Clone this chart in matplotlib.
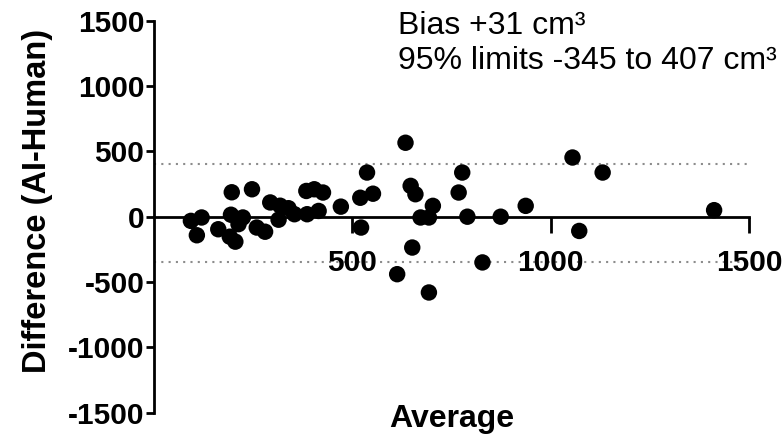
import matplotlib.pyplot as plt

plt.rcParams['font.family'] = ['Liberation Sans', 'DejaVu Sans']
plt.rcParams['axes.unicode_minus'] = False

# Bland-Altman data
average = [93, 120, 108, 196, 247, 194, 224, 162, 191, 205, 213, 259, 280,
           293, 318, 339, 314, 354, 384, 404, 426, 386, 415, 471, 522, 520,
           537, 552, 634, 647, 659, 703, 672, 693, 651, 613, 693, 777, 768,
           790, 874, 937, 828, 1055, 1131, 1072, 1412]
difference = [-32, -6, -142, 187, 210, 15, -6, -96, -153, -191, -57, -83, -115,
              109, 84, 65, -23, 19, 197, 210, 185, 19, 44, 77, -83, 145,
              338, 176, 566, 236, 172, 83, -6, -6, -236, -440, -580, 338, 185,
              0, 0, 83, -350, 453, 338, -109, 50]
bias = 31
lower_limit = -345
upper_limit = 407
x_ticks = [500, 1000, 1500]
y_ticks = [-1500, -1000, -500, 0, 500, 1000, 1500]

fig = plt.figure(figsize=(7.83, 4.38), dpi=100)
ax = fig.add_axes([0.1967, 0.0578, 0.7599, 0.8949])

ax.axhline(upper_limit, color='#8c8c8c', lw=1.5, ls=(0, (1, 2.5)), zorder=1)
ax.axhline(lower_limit, color='#8c8c8c', lw=1.5, ls=(0, (1, 2.5)), zorder=1)
ax.scatter(average, difference, s=140, color='black', edgecolors='none',
           zorder=3, clip_on=False)

ax.set_xlim(0, 1500)
ax.set_ylim(-1500, 1500)
ax.set_xticks(x_ticks)
ax.set_yticks(y_ticks)

ax.spines['top'].set_visible(False)
ax.spines['right'].set_visible(False)
ax.spines['bottom'].set_position(('data', 0))
for s in ['left', 'bottom']:
    ax.spines[s].set_linewidth(2)
    ax.spines[s].set_zorder(2)

ax.tick_params(axis='x', length=11.5, width=2, pad=12, labelsize=21.5)
ax.tick_params(axis='y', length=6, width=2, pad=1, labelsize=21.5)
for lab in ax.get_xticklabels() + ax.get_yticklabels():
    lab.set_fontweight('bold')

ax.set_ylabel('Difference (AI-Human)', fontsize=23.5, fontweight='bold')
ax.yaxis.set_label_coords(-0.17, 0.539)
ax.text(0.5, -0.036, 'Average', transform=ax.transAxes, ha='center',
        va='baseline', fontsize=23, fontweight='bold')

ax.text(616, 1396, 'Bias +%d cm³' % bias, fontsize=23, va='baseline')
ax.text(616, 1128, '95%% limits %d to %d cm³' % (lower_limit, upper_limit),
        fontsize=23, va='baseline')

fig.savefig('out.png', dpi=100)
